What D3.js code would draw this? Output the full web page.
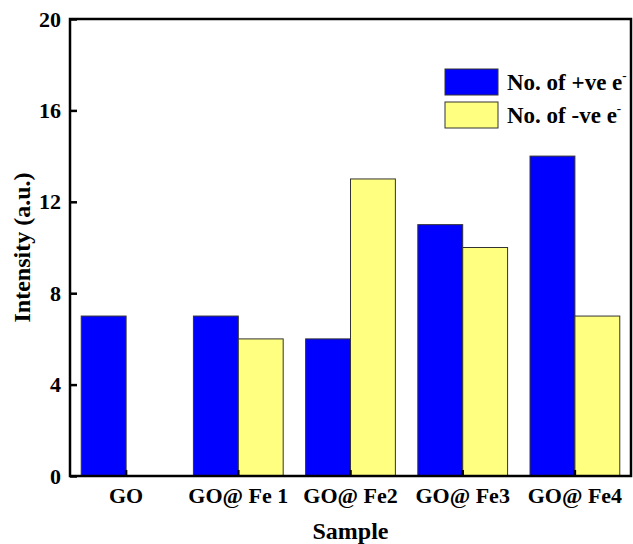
<!DOCTYPE html>
<html>
<head>
<meta charset="utf-8">
<script src="https://cdn.jsdelivr.net/npm/d3@7"></script>
<style>
  body { margin: 0; background: #fff; }
  text { font-family: "Liberation Serif", "Times New Roman", serif; font-weight: bold; }
</style>
</head>
<body>
<script>
const samples = ["GO", "GO@ Fe 1", "GO@ Fe2", "GO@ Fe3", "GO@ Fe4"];
const positive = [7, 7, 6, 11, 14];
const negative = [0, 6, 13, 10, 7];
const yTicks = [0, 4, 8, 12, 16, 20];
const seriesNames = ["No. of +ve e", "No. of -ve e"];
const colors = ["#0000ff", "#ffff80"];

const width = 633, height = 544;
const margin = {left: 70, right: 2, top: 19, bottom: 68};

const svg = d3.select("body").append("svg")
    .attr("width", width)
    .attr("height", height);

const x = d3.scaleBand()
    .domain(samples)
    .range([margin.left, width - margin.right]);

const inner = d3.scaleBand()
    .domain([0, 1])
    .range([x.bandwidth() * 0.1, x.bandwidth() * 0.9]);

const y = d3.scaleLinear()
    .domain([0, 20])
    .range([height - margin.bottom, margin.top]);

const data = samples.map((s, i) => ({sample: s, values: [positive[i], negative[i]]}));

const groups = svg.selectAll("g.group")
    .data(data)
    .enter().append("g")
    .attr("class", "group")
    .attr("transform", d => `translate(${x(d.sample)},0)`);

groups.selectAll("rect")
    .data(d => d.values.map((v, k) => ({v, k})).filter(d => d.v > 0))
    .enter().append("rect")
    .attr("x", d => inner(d.k))
    .attr("y", d => y(d.v))
    .attr("width", inner.bandwidth())
    .attr("height", d => y(0) - y(d.v))
    .attr("fill", d => colors[d.k])
    .attr("stroke", "#333")
    .attr("stroke-width", 1);

// frame
svg.append("rect")
    .attr("x", margin.left)
    .attr("y", margin.top)
    .attr("width", width - margin.left - margin.right)
    .attr("height", height - margin.top - margin.bottom)
    .attr("fill", "none")
    .attr("stroke", "#000")
    .attr("stroke-width", 2.5);

const yAxis = svg.append("g")
    .attr("transform", `translate(${margin.left},0)`)
    .call(d3.axisRight(y).tickValues(yTicks).tickSize(7).tickFormat(d3.format("d")));
yAxis.select(".domain").remove();
yAxis.selectAll("line").attr("stroke-width", 2.5);
yAxis.selectAll("text")
    .attr("x", -9)
    .attr("text-anchor", "end")
    .attr("font-size", 22)
    .attr("fill", "#000");

const xAxis = svg.append("g")
    .attr("transform", `translate(0,${y(0)})`)
    .call(d3.axisTop(x).tickSize(6));
xAxis.select(".domain").remove();
xAxis.selectAll("line").attr("stroke-width", 2.5);
xAxis.selectAll("text")
    .attr("y", 27)
    .attr("font-size", 22)
    .attr("fill", "#000");

svg.append("text")
    .attr("transform", `translate(30,${(margin.top + y(0)) / 2}) rotate(-90)`)
    .attr("text-anchor", "middle")
    .attr("font-size", 24)
    .text("Intensity (a.u.)");

svg.append("text")
    .attr("x", (margin.left + width - margin.right) / 2)
    .attr("y", 539)
    .attr("text-anchor", "middle")
    .attr("font-size", 24)
    .text("Sample");

const legend = svg.append("g").attr("transform", "translate(445,69)");
const items = legend.selectAll("g")
    .data(seriesNames)
    .enter().append("g")
    .attr("transform", (d, i) => `translate(0,${i * 33})`);
items.append("rect")
    .attr("width", 53)
    .attr("height", 26)
    .attr("fill", (d, i) => colors[i])
    .attr("stroke", "#333")
    .attr("stroke-width", 1);
const lt = items.append("text")
    .attr("x", 62)
    .attr("y", 21)
    .attr("font-size", 23);
lt.append("tspan").text(d => d);
lt.append("tspan").attr("dy", -10).attr("font-size", 13).text("-");
</script>
</body>
</html>
